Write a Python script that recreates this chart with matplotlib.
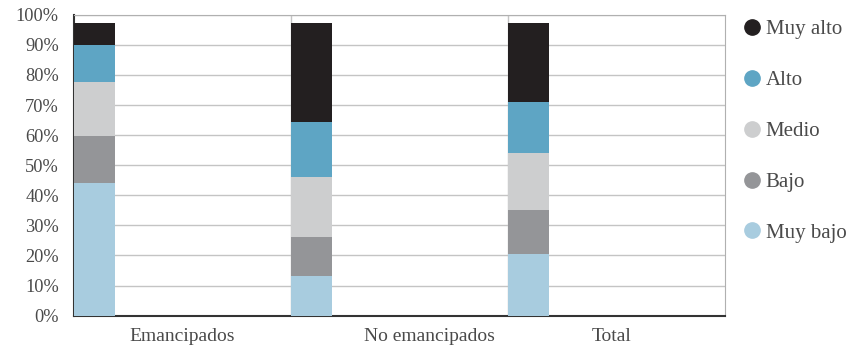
import matplotlib.pyplot as plt
from matplotlib.lines import Line2D
from matplotlib.ticker import PercentFormatter

# Data (percent)
categories = ['Emancipados', 'No emancipados', 'Total']
levels = ['Muy bajo', 'Bajo', 'Medio', 'Alto', 'Muy alto']
muy_bajo = [44.2, 13.2, 20.5]
bajo = [15.5, 12.9, 14.6]
medio = [17.9, 20.0, 19.0]
alto = [12.3, 18.3, 16.9]
muy_alto = [7.3, 32.8, 26.2]

colors = ['#a8ccdf', '#949598', '#cdcecf', '#5ea5c4', '#231f20']
series = [muy_bajo, bajo, medio, alto, muy_alto]

plt.rcParams['font.family'] = ['Liberation Serif', 'DejaVu Serif']
text_col = '#4a4a4a'

fig = plt.figure(figsize=(8.54, 3.46), dpi=100)
ax = fig.add_axes([0.0867, 0.0876, 0.7623, 0.8699])

x = range(len(categories))
bottom = [0, 0, 0]
for vals, col, lab in zip(series, colors, levels):
    ax.bar(x, vals, width=0.19, bottom=bottom, align='edge', color=col,
           label=lab, zorder=3)
    bottom = [b + v for b, v in zip(bottom, vals)]

ax.set_xlim(0, 3)
ax.set_ylim(0, 100)
ax.set_yticks(range(0, 101, 10))
ax.yaxis.set_major_formatter(PercentFormatter(decimals=0))
ax.grid(axis='y', color='#c4c4c4', linewidth=1.0, zorder=0)
for xv in [1, 2]:
    ax.axvline(xv, color='#c4c4c4', linewidth=1.0, zorder=0)

# category labels are not centred identically in the original
ax.set_xticks([0.5, 1.64, 2.477])
ax.set_xticklabels(categories)
ax.tick_params(axis='y', length=0, labelsize=13.2, colors=text_col, pad=11)
ax.tick_params(axis='x', length=0, labelsize=14, colors=text_col, pad=9)

ax.spines['left'].set_color('#333333')
ax.spines['bottom'].set_color('#333333')
ax.spines['left'].set_linewidth(1.5)
ax.spines['bottom'].set_linewidth(1.5)
ax.spines['top'].set_color('#b0b0b0')
ax.spines['right'].set_color('#b0b0b0')

handles = [Line2D([], [], marker='o', linestyle='', markersize=11,
                  markerfacecolor=c, markeredgecolor=c)
           for c in colors[::-1]]
leg = fig.legend(handles, levels[::-1], loc='upper left',
                 bbox_to_anchor=(0.854, 0.985), frameon=False,
                 fontsize=15, handlelength=0.8, handletextpad=0.25,
                 labelspacing=1.5, borderpad=0.2)
for t in leg.get_texts():
    t.set_color(text_col)

fig.savefig('out.png', dpi=100)
